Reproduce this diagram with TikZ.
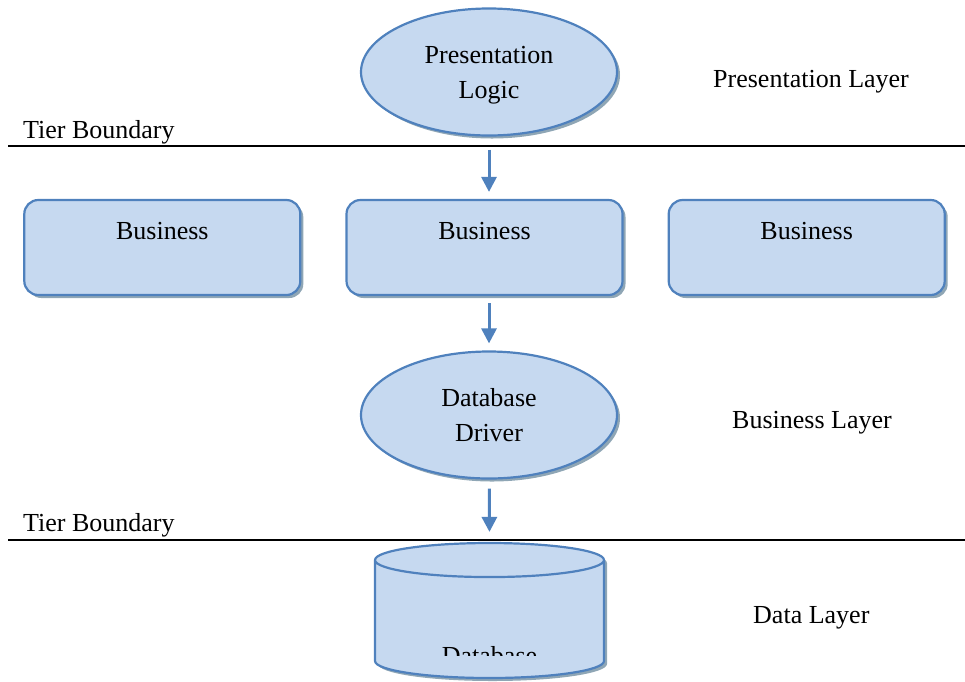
\documentclass[tikz,border=0pt]{standalone}
\usepackage{fontspec}
\setmainfont{Liberation Serif}
\usetikzlibrary{arrows.meta,positioning,shapes.geometric,shadows}
\definecolor{boxfill}{HTML}{C6D9F0}
\definecolor{boxline}{HTML}{4F81BD}
\definecolor{shadowc}{HTML}{8FA6B5}

\begin{document}
\begin{tikzpicture}[
    x=1pt,y=-1pt,
    font=\fontsize{26}{35}\selectfont,
    shade/.style={drop shadow={shadow xshift=3pt,shadow yshift=-3pt,
        fill=shadowc,opacity=1}},
    oval/.style={ellipse,draw=boxline,line width=2.2pt,fill=boxfill,shade,
        minimum width=256pt,minimum height=127pt,inner sep=0pt,align=center,
        text depth=0pt},
    bizbox/.style={draw=boxline,line width=2.2pt,fill=boxfill,shade,
        rounded corners=14pt,minimum width=276pt,minimum height=95pt,
        inner ysep=0pt,text height=18pt,text depth=35pt},
    store/.style={cylinder,shape border rotate=90,aspect=0.15,
        draw=boxline,line width=2.2pt,fill=boxfill,shade,
        minimum width=229pt,minimum height=135pt,inner sep=2pt},
    layer/.style={anchor=base west,inner sep=0pt},
    arrow/.style={-{Triangle[length=15pt,width=15pt]},line width=3pt,draw=boxline},
    tier/.style={line width=1.8pt,draw=black}
]
\useasboundingbox (0,0) rectangle (965,681);

% presentation tier
\node[oval] (pres) at (489,72) {Presentation\\Logic};
\node[layer] (preslbl) at (713,87) {Presentation Layer};
\node[layer] (tier1) at (23,138) {Tier Boundary};
\coordinate (t1a) at (8,146);
\coordinate (t1b) at (965,146);
\draw[tier] (t1a) -- (t1b);

% business tier
\node[bizbox] (biz2) at (484.5,247.5) {Business};
\node[bizbox,left=44pt of biz2] (biz1) {Business};
\node[bizbox,right=44pt of biz2] (biz3) {Business};
\node[oval] (driver) at (489,415) {Database\\Driver};
\node[layer] (bizlbl) at (732,428) {Business Layer};
\node[layer] (tier2) at (23,531) {Tier Boundary};
\coordinate (t2a) at (8,540);
\coordinate (t2b) at (965,540);
\draw[tier] (t2a) -- (t2b);

% data tier
\node[store,anchor=shape center] (db) at (489.5,610.5) {\rule{223pt}{0pt}};
\begin{scope}
    \clip (375,600) rectangle (604,655);
    \node[anchor=base] (dbtext) at (489.5,664) {Database};
\end{scope}
\node[layer] (datalbl) at (753,623) {Data Layer};

\draw[arrow,shorten <=13pt,shorten >=7pt] (pres) -- (biz2.north -| pres);
\draw[arrow,shorten <=7pt,shorten >=7pt] (biz2.south -| driver) -- (driver);
\draw[arrow,shorten <=9pt,shorten >=10pt] (driver) -- (db.top);
\end{tikzpicture}
\end{document}
